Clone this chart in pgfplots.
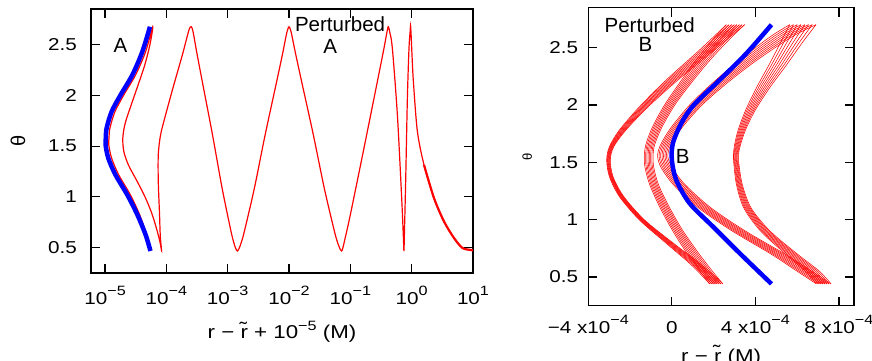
\documentclass[border=0pt]{standalone}
\usepackage{fontspec}
\setmainfont{Liberation Sans}
\newfontfamily\tickfont{Liberation Sans}[FakeStretch=1.2]
\usepackage{pgfplots}
\usepackage{pgfplotstable}
\pgfplotsset{compat=1.18}
\newcommand\sups[1]{\raisebox{8.5bp}{\fontsize{13.5bp}{15bp}\selectfont #1}}
\newcommand\tf{\tickfont\fontsize{17.2bp}{20bp}\selectfont}
\newcommand\lf{\tickfont\fontsize{18.6bp}{22bp}\selectfont}
\newcommand\lab{\fontsize{20.5bp}{24bp}\selectfont}

\pgfplotstableread{
th c0 c1 c2 c3 c4 c5 c6 c7
2.70 2.61 2.735 2.86 2.985 3.11 3.235 3.36 3.485
2.48 1.33 1.43 1.53 1.63 1.73 1.83 1.93 2.03
2.218 -0.27 -0.19 -0.11 -0.03 0.05 0.13 0.21 0.29
1.985 -1.55 -1.49 -1.43 -1.37 -1.31 -1.25 -1.19 -1.13
1.782 -2.51 -2.465 -2.42 -2.375 -2.33 -2.285 -2.24 -2.195
1.637 -2.99 -2.96 -2.93 -2.90 -2.87 -2.84 -2.81 -2.78
1.52 -3.12 -3.095 -3.07 -3.045 -3.02 -2.995 -2.97 -2.945
1.375 -2.99 -2.965 -2.94 -2.915 -2.89 -2.865 -2.84 -2.815
1.201 -2.51 -2.48 -2.45 -2.42 -2.39 -2.36 -2.33 -2.30
0.997 -1.55 -1.515 -1.48 -1.445 -1.41 -1.375 -1.34 -1.305
0.794 -0.27 -0.22 -0.17 -0.12 -0.07 -0.02 0.03 0.08
0.619 0.85 0.92 0.99 1.06 1.13 1.20 1.27 1.34
0.503 1.49 1.575 1.66 1.745 1.83 1.915 2.0 2.085
0.44 1.81 1.90 1.99 2.08 2.17 2.26 2.35 2.44
}\arcL

\pgfplotstableread{
th c0 c1 c2 c3 c4 c5 c6 c7
0.44 1.81 1.90 1.99 2.08 2.17 2.26 2.35 2.44
0.55 1.35 1.435 1.52 1.605 1.69 1.775 1.86 1.945
0.70 0.75 0.83 0.91 0.99 1.07 1.15 1.23 1.31
0.90 0.05 0.12 0.19 0.26 0.33 0.40 0.47 0.54
1.10 -0.55 -0.485 -0.42 -0.355 -0.29 -0.225 -0.16 -0.095
1.30 -1.05 -0.99 -0.93 -0.87 -0.81 -0.75 -0.69 -0.63
1.45 -1.28 -1.22 -1.16 -1.10 -1.04 -0.98 -0.92 -0.86
1.55 -1.32 -1.26 -1.20 -1.14 -1.08 -1.02 -0.96 -0.90
1.65 -1.25 -1.19 -1.13 -1.07 -1.01 -0.95 -0.89 -0.83
1.80 -0.95 -0.885 -0.82 -0.755 -0.69 -0.625 -0.56 -0.495
2.00 -0.35 -0.28 -0.21 -0.14 -0.07 0.0 0.07 0.14
2.20 0.40 0.48 0.56 0.64 0.72 0.80 0.88 0.96
2.40 1.20 1.295 1.39 1.485 1.58 1.675 1.77 1.865
2.60 2.10 2.215 2.33 2.445 2.56 2.675 2.79 2.905
2.70 2.61 2.735 2.86 2.985 3.11 3.235 3.36 3.485
}\arcS

\pgfplotstableread{
th c0 c1 c2 c3 c4 c5 c6 c7
2.70 5.64 5.82 6.00 6.18 6.36 6.54 6.72 6.90
2.55 5.22 5.37 5.52 5.67 5.82 5.97 6.12 6.27
2.35 4.65 4.77 4.89 5.01 5.13 5.25 5.37 5.49
2.15 4.05 4.14 4.23 4.32 4.41 4.50 4.59 4.68
1.95 3.52 3.585 3.65 3.715 3.78 3.845 3.91 3.975
1.78 3.17 3.22 3.27 3.32 3.37 3.42 3.47 3.52
1.65 3.00 3.04 3.08 3.12 3.16 3.20 3.24 3.28
1.57 2.95 2.985 3.02 3.055 3.09 3.125 3.16 3.195
1.48 2.97 3.005 3.04 3.075 3.11 3.145 3.18 3.215
1.30 3.10 3.14 3.18 3.22 3.26 3.30 3.34 3.38
1.10 3.45 3.50 3.55 3.60 3.65 3.70 3.75 3.80
0.90 4.25 4.315 4.38 4.445 4.51 4.575 4.64 4.705
0.70 5.45 5.53 5.61 5.69 5.77 5.85 5.93 6.01
0.55 6.40 6.495 6.59 6.685 6.78 6.875 6.97 7.065
0.44 6.92 7.02 7.12 7.22 7.32 7.42 7.52 7.62
}\arcR

\pgfplotstableread{
th c0 c1 c2 c3 c4 c5 c6 c7
0.44 6.92 7.02 7.12 7.22 7.32 7.42 7.52 7.62
0.55 6.00 6.10 6.20 6.30 6.40 6.50 6.60 6.70
0.70 4.75 4.845 4.94 5.035 5.13 5.225 5.32 5.415
0.90 2.90 2.99 3.08 3.17 3.26 3.35 3.44 3.53
1.10 1.30 1.385 1.47 1.555 1.64 1.725 1.81 1.895
1.30 0.10 0.18 0.26 0.34 0.42 0.50 0.58 0.66
1.45 -0.50 -0.425 -0.35 -0.275 -0.20 -0.125 -0.05 0.025
1.55 -0.68 -0.61 -0.54 -0.47 -0.40 -0.33 -0.26 -0.19
1.65 -0.55 -0.48 -0.41 -0.34 -0.27 -0.20 -0.13 -0.06
1.80 -0.05 0.025 0.10 0.175 0.25 0.325 0.40 0.475
2.00 0.85 0.935 1.02 1.105 1.19 1.275 1.36 1.445
2.20 2.00 2.10 2.20 2.30 2.40 2.50 2.60 2.70
2.40 3.30 3.42 3.54 3.66 3.78 3.90 4.02 4.14
2.60 4.75 4.90 5.05 5.20 5.35 5.50 5.65 5.80
2.70 5.64 5.82 6.00 6.18 6.36 6.54 6.72 6.90
}\arcW

\pgfplotsset{gp/.style={
  scale only axis,
  axis line style={line width=1.1bp},
  every tick/.style={black, line width=1.1bp},
  major tick length=9bp,
  tick align=inside,
  xminorticks=false, yminorticks=false,
  tick label style={font=\tf},
  /pgf/number format/assume math mode=true,
  yticklabel style={anchor=east, inner sep=0pt},
  xticklabel style={anchor=base, inner sep=0pt},
  ymin=0.25, ymax=2.85,
  ytick={0.5,1,1.5,2,2.5},
  yticklabels={0.5,1,1.5,2,2.5},
}}

\begin{document}
\begin{tikzpicture}
\useasboundingbox (0,0) rectangle (872bp,361bp);

% ---------------- left panel ----------------
\begin{axis}[gp,
  at={(91bp,88bp)}, anchor=south west,
  width=382bp, height=264bp,
  xmode=log, xmin=5.9e-6, xmax=10,
  xtick={1e-5,1e-4,1e-3,1e-2,1e-1,1,10},
  xticklabels={10\sups{−5},10\sups{−4},10\sups{−3},10\sups{−2},10\sups{−1},10\sups{0},10\sups{1}},
  xticklabel style={yshift=-31bp},
  yticklabel style={xshift=-14bp},
  xlabel={r − \~{r} + 10\sups{−5} (M)},
  xlabel style={at={(axis description cs:0.5,-0.2235)}, anchor=center, font=\lf},
  ylabel={θ},
  ylabel style={at={(axis description cs:-0.191,0.5)}, anchor=center, font=\fontsize{20bp}{24bp}\selectfont},
]
\addplot[red, line width=1.2bp, smooth, tension=0.5] coordinates {
(5.55e-5,0.467)(4.75e-5,0.628)(3.65e-5,0.827)(2.58e-5,1.021)(1.67e-5,1.217)(1.28e-5,1.381)(1.15e-5,1.512)(1.16e-5,1.578)(1.2e-5,1.676)(1.45e-5,1.839)(2.02e-5,2.003)(3.14e-5,2.199)(4.58e-5,2.428)(6.0e-5,2.675)
(5.4e-5,2.50)(4.45e-5,2.30)(3.45e-5,2.10)(2.65e-5,1.90)(2.12e-5,1.72)(1.95e-5,1.578)(2.02e-5,1.45)(2.4e-5,1.315)(3.35e-5,1.151)(4.58e-5,0.988)(5.89e-5,0.824)(7.11e-5,0.660)(8.04e-5,0.529)(8.35e-5,0.467)
(7.95e-5,0.62)(7.74e-5,0.824)(7.38e-5,1.151)(7.38e-5,1.414)(8.04e-5,1.610)(9.70e-5,1.806)(1.32e-4,2.101)(1.82e-4,2.396)(2.33e-4,2.641)(2.547e-4,2.675)
(2.685e-4,2.642)(2.825e-4,2.576)(3.133e-4,2.421)(3.855e-4,2.134)(5.636e-4,1.615)(8.110e-4,1.085)(1.107e-3,0.688)(1.208e-3,0.588)(1.315e-3,0.511)(1.387e-3,0.478)(1.436e-3,0.467)
(1.493e-3,0.478)(1.581e-3,0.511)(1.742e-3,0.588)(1.919e-3,0.688)(2.723e-3,1.085)(4.093e-3,1.615)(6.281e-3,2.134)(7.925e-3,2.421)(8.892e-3,2.576)(9.44e-3,2.642)(1.0e-2,2.675)
(1.062e-2,2.642)(1.125e-2,2.576)(1.268e-2,2.421)(1.607e-2,2.134)(2.483e-2,1.615)(3.758e-2,1.085)(5.358e-2,0.688)(5.916e-2,0.588)(6.531e-2,0.511)(6.934e-2,0.478)(7.211e-2,0.467)
(7.50e-2,0.49)(8.13e-2,0.58)(0.1,0.824)(0.1667,1.479)(0.2754,2.134)(0.3532,2.462)(0.389,2.60)(0.407,2.66)(0.417,2.675)
(0.4365,2.63)(0.4842,2.462)(0.5848,1.806)(0.6871,0.988)(0.7328,0.6)(0.7482,0.467)
(0.7586,0.6)(0.798,1.151)(0.851,1.97)(0.904,2.46)(0.944,2.63)(0.964,2.675)
(1.012,2.40)(1.067,2.134)(1.239,1.645)(1.589,1.315)(2.312,0.988)(3.365,0.758)(4.898,0.595)(6.714,0.497)(9.16,0.477)(10,0.472)
};
\addplot[red, line width=2.2bp, smooth] coordinates {
(1.589,1.315)(2.312,0.988)(3.365,0.758)(4.898,0.595)(6.714,0.497)(9.16,0.477)(10,0.472)
};
\addplot[blue, line width=4.5bp, smooth] coordinates {
(5.5e-5,0.467)(4.58e-5,0.628)(3.35e-5,0.827)(2.30e-5,1.021)(1.48e-5,1.217)(1.13e-5,1.381)(1.02e-5,1.512)(1.03e-5,1.578)(1.06e-5,1.676)(1.28e-5,1.839)(1.79e-5,2.003)(2.78e-5,2.199)(4.05e-5,2.428)(5.4e-5,2.675)
};
\node[anchor=base, font=\lab] at (rel axis cs:0.077,0.836) {A};
\node[anchor=base, font=\lab] at (rel axis cs:0.652,0.914) {Perturbed};
\node[anchor=base, font=\lab] at (rel axis cs:0.626,0.832) {A};
\end{axis}

% ---------------- right panel ----------------
\begin{axis}[gp,
  at={(588.3bp,55.3bp)}, anchor=south west,
  width=265.7bp, height=298.2bp,
  xmin=-4, xmax=8.72,
  xtick={-4,0,4,8},
  xticklabels={−4 x10\sups{−4},0,4 x10\sups{−4},8 x10\sups{−4}},
  xticklabel style={yshift=-27.6bp},
  yticklabel style={xshift=-10bp},
  xlabel={r − \~{r} (M)},
  xlabel style={at={(axis description cs:0.5,-0.168)}, anchor=center, font=\lf},
  ylabel={θ},
  ylabel style={at={(axis description cs:-0.230,0.5)}, anchor=center, font=\fontsize{13bp}{16bp}\selectfont},
]
\pgfplotsinvokeforeach{0,...,7}{
  \addplot[red, line width=0.55bp, smooth] table[x=c#1, y=th]{\arcL};
  \addplot[red, line width=0.55bp, smooth] table[x=c#1, y=th]{\arcS};
  \addplot[red, line width=0.55bp, smooth] table[x=c#1, y=th]{\arcR};
  \addplot[red, line width=0.55bp, smooth] table[x=c#1, y=th]{\arcW};
}
\addplot[blue, line width=4.5bp, smooth] coordinates {
(4.77,2.70)(3.57,2.45)(2.29,2.218)(1.05,2.00)(0.45,1.84)(0.05,1.666)(0.0,1.52)(0.21,1.346)(0.85,1.143)(1.97,0.939)(3.25,0.707)(4.77,0.44)
};
\node[anchor=base, font=\lab] at (rel axis cs:0.231,0.917) {Perturbed};
\node[anchor=base, font=\lab] at (rel axis cs:0.215,0.852) {B};
\node[anchor=base, font=\lab] at (rel axis cs:0.355,0.4775) {B};
\end{axis}
\end{tikzpicture}
\end{document}
